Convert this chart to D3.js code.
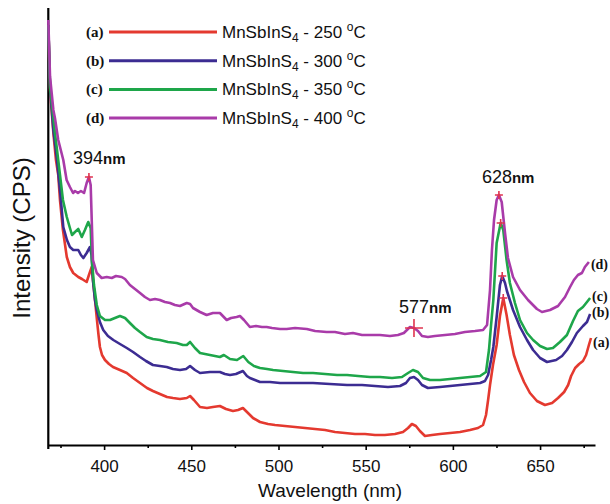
<!DOCTYPE html>
<html>
<head>
<meta charset="utf-8">
<script src="https://cdn.jsdelivr.net/npm/d3@7"></script>
<style>
  body { margin: 0; background: #fff; }
  text { font-family: "Liberation Sans", Arial, sans-serif; fill: #111; }
  .tag { font-family: "Liberation Serif", "Times New Roman", serif; font-weight: bold; }
</style>
</head>
<body>
<div id="chart"></div>
<script>
// wavelength (nm), intensity (CPS)
var seriesA = [[368.0,4200],[369.0,3550],[370.9,3120],[372.4,2850],[373.7,2700],[374.7,2450],[376.4,2150],[378.6,1880],[380.4,1780],[382.3,1720],[385.2,1680],[387.3,1660],[390.0,1630],[391.3,1700],[392.9,1780],[393.6,1650],[394.8,1450],[395.9,1250],[396.8,1100],[397.6,980],[398.8,900],[400.5,850],[402.8,810],[405.1,780],[409.1,750],[413.0,720],[416.6,670],[420.6,620],[424.6,570],[428.0,540],[432.0,510],[436.1,480],[439.5,470],[443.5,460],[447.4,470],[449.3,490],[451.5,450],[455.0,380],[459.0,370],[462.4,380],[466.4,390],[469.9,360],[473.9,340],[476.8,350],[479.6,370],[482.5,320],[485.4,270],[489.4,230],[494.0,210],[498.0,200],[503.7,190],[509.5,180],[515.2,170],[520.9,160],[526.7,150],[532.4,130],[538.1,120],[543.9,110],[549.6,110],[555.3,100],[561.0,100],[566.8,110],[571.4,130],[574.3,170],[576.5,210],[578.8,190],[581.1,140],[584.0,90],[588.0,100],[592.6,110],[598.4,120],[604.1,130],[609.8,150],[614.4,170],[617.3,200],[619.0,300],[620.2,450],[621.3,600],[623.0,800],[625.1,1000],[627.0,1290],[628.9,1470],[630.8,1300],[632.7,1100],[635.0,900],[637.9,750],[640.8,630],[644.2,520],[648.2,440],[652.8,400],[656.9,420],[660.3,470],[663.8,530],[666.1,600],[667.8,690],[670.1,770],[672.4,810],[674.6,840],[676.4,900],[678.0,1000],[679.2,1070]];

var seriesB = [[368.0,4200],[369.0,3570],[370.9,3150],[373.0,2850],[374.7,2550],[376.6,2180],[378.7,2050],[380.4,1980],[382.3,1950],[385.2,1950],[386.7,1900],[388.1,1870],[390.0,1920],[391.9,1980],[392.8,1900],[393.6,1650],[394.8,1450],[395.8,1350],[397.6,1230],[399.5,1150],[402.2,1090],[405.3,1050],[409.1,1010],[413.0,970],[416.6,930],[420.6,880],[424.0,840],[428.0,800],[432.0,790],[435.9,780],[439.5,760],[443.5,750],[447.0,760],[449.3,790],[452.1,750],[455.0,720],[460.7,730],[466.4,730],[469.3,710],[472.2,700],[475.6,710],[479.6,740],[481.9,690],[483.6,670],[486.5,650],[489.4,630],[495.1,630],[500.9,620],[509.5,620],[519.8,620],[529.5,610],[539.3,600],[547.9,600],[555.3,590],[562.8,580],[569.7,590],[573.1,620],[575.4,670],[577.7,680],[580.0,650],[582.3,600],[585.7,570],[592.6,580],[598.4,590],[604.1,600],[609.8,610],[615.6,620],[618.4,640],[620.2,700],[621.9,850],[623.2,980],[625.1,1280],[627.0,1600],[628.3,1690],[629.9,1620],[631.0,1540],[634.5,1350],[638.5,1180],[642.5,1050],[646.0,950],[650.0,870],[654.0,830],[659.2,850],[662.6,890],[665.4,950],[668.3,1030],[671.1,1120],[674.6,1190],[676.9,1230],[678.7,1310]];

var seriesC = [[368.0,4200],[369.0,3580],[371.8,3120],[373.0,2950],[374.7,2700],[376.4,2450],[378.6,2280],[380.4,2170],[381.6,2100],[383.3,2130],[385.2,2160],[387.2,2080],[389.0,2150],[390.9,2230],[392.3,2170],[393.0,1850],[394.2,1600],[395.8,1400],[397.6,1290],[400.5,1250],[403.4,1250],[406.2,1270],[409.1,1290],[412.0,1270],[414.8,1220],[417.7,1170],[420.6,1130],[424.4,1080],[428.0,1060],[432.0,1050],[436.6,1030],[441.6,1020],[445.2,1000],[447.4,1000],[449.3,1030],[452.1,970],[455.0,920],[460.7,900],[466.4,880],[468.7,900],[472.2,860],[476.2,850],[479.8,890],[482.7,830],[485.9,790],[489.4,770],[493.4,760],[496.9,750],[502.6,740],[508.3,730],[514.1,720],[519.8,720],[526.7,710],[533.6,700],[539.3,700],[545.6,690],[552.5,680],[558.2,680],[565.1,670],[570.8,680],[574.3,720],[577.1,750],[580.0,730],[582.9,670],[586.9,650],[592.6,650],[598.4,660],[604.1,670],[609.8,680],[615.6,690],[619.0,730],[620.7,950],[621.9,1200],[623.2,1450],[625.1,2020],[627.4,2220],[628.9,2150],[630.8,1850],[632.7,1620],[635.6,1420],[638.5,1250],[642.5,1120],[646.0,1050],[650.0,990],[654.0,960],[657.4,970],[661.4,1030],[665.4,1100],[668.9,1240],[671.7,1340],[674.6,1380],[676.9,1430],[678.7,1470]];

var seriesD = [[368.0,4250],[369.0,3680],[370.9,3350],[371.8,3270],[373.7,3050],[376.6,2850],[378.5,2650],[380.4,2580],[382.2,2520],[383.3,2540],[385.0,2520],[386.7,2540],[388.5,2520],[390.0,2620],[391.3,2680],[392.3,2600],[393.6,1850],[395.8,1720],[398.6,1670],[401.5,1680],[404.4,1670],[406.8,1690],[410.1,1680],[412.0,1660],[414.8,1600],[417.7,1560],[420.6,1520],[423.4,1480],[426.3,1450],[429.2,1460],[432.0,1450],[434.9,1430],[437.8,1420],[440.6,1400],[443.5,1390],[447.4,1420],[449.3,1410],[451.0,1370],[455.0,1330],[458.8,1300],[462.4,1320],[466.4,1320],[470.3,1250],[472.8,1270],[476.0,1280],[477.9,1290],[480.2,1250],[483.6,1180],[487.1,1190],[490.5,1180],[493.2,1180],[496.3,1170],[500.9,1160],[504.7,1160],[509.5,1170],[516.2,1160],[521.0,1140],[527.6,1130],[532.4,1130],[538.1,1110],[542.7,1120],[547.9,1100],[553.6,1100],[558.2,1100],[563.9,1090],[568.5,1100],[571.9,1120],[575.4,1180],[577.7,1170],[580.0,1140],[582.3,1090],[585.7,1080],[589.7,1090],[595.5,1100],[601.2,1110],[606.9,1130],[612.7,1140],[617.3,1150],[619.6,1200],[621.3,1550],[622.4,1950],[623.6,2250],[625.1,2450],[626.4,2500],[628.0,2430],[629.9,2120],[631.6,1870],[634.5,1680],[638.5,1550],[643.1,1450],[648.2,1360],[651.1,1330],[655.7,1350],[660.3,1390],[664.3,1480],[667.2,1580],[669.4,1650],[671.7,1700],[674.0,1720],[675.7,1780],[678.0,1830]];

var sampleTags = ["(a)", "(b)", "(c)", "(d)"];
var temperatures = ["250", "300", "350", "400"];
var colors = ["#e4392f", "#3c2c92", "#1ea64a", "#a93ba9"];
var majorTicks = [400, 450, 500, 550, 600, 650];
var minorTicks = [375, 425, 475, 525, 575, 625, 675];
// peak markers: [series index, wavelength]
var smallStars = [[3, 391.3], [3, 626.4], [2, 627.4], [1, 628.3], [0, 628.9]];
var bigStar = [3, 577.7];
var peakLabels = [[3, 391.3, "394"], [3, 626.4, "628"], [3, 577.7, "577"]];

var allSeries = [seriesA, seriesB, seriesC, seriesD];

var width = 610, height = 504;
var svg = d3.select("#chart").append("svg")
    .attr("width", width)
    .attr("height", height);

var x = d3.scaleLinear().domain([368, 681.5]).range([48.3, 595]);
var y = d3.scaleLinear().domain([0, 4370]).range([445, 8]);

// axes
svg.append("g")
    .attr("transform", "translate(0,445)")
    .call(d3.axisBottom(x).tickValues(minorTicks).tickSize(3).tickFormat("").tickSizeOuter(0))
    .call(function(g){ g.select(".domain").remove(); })
    .selectAll("line").attr("stroke", "#000").attr("stroke-width", 1.6);

var xAxis = svg.append("g")
    .attr("transform", "translate(0,445)")
    .call(d3.axisBottom(x).tickValues(majorTicks).tickSize(5).tickSizeOuter(0).tickPadding(10));
xAxis.select(".domain").attr("stroke", "#000").attr("stroke-width", 2.2);
xAxis.selectAll("line").attr("stroke", "#000").attr("stroke-width", 1.6);
xAxis.selectAll("text")
    .style("font-family", '"Liberation Sans", Arial, sans-serif')
    .style("font-size", "17px")
    .attr("fill", "#111");

svg.append("line")
    .attr("x1", 48.3).attr("x2", 48.3)
    .attr("y1", 8).attr("y2", 449)
    .attr("stroke", "#000")
    .attr("stroke-width", 2.2);

svg.append("text")
    .attr("x", 330)
    .attr("y", 497)
    .attr("text-anchor", "middle")
    .style("font-size", "19px")
    .text("Wavelength (nm)");

svg.append("text")
    .attr("transform", "translate(30,238) rotate(-90)")
    .attr("text-anchor", "middle")
    .style("font-size", "24px")
    .text("Intensity (CPS)");

// spectra
var line = d3.line()
    .x(function(d){ return x(d[0]); })
    .y(function(d){ return y(d[1]); });

allSeries.forEach(function(s, i){
    svg.append("path")
        .datum(s)
        .attr("d", line)
        .attr("fill", "none")
        .attr("stroke", colors[i])
        .attr("stroke-width", 2.6)
        .attr("stroke-linejoin", "round");
});

function valueAt(i, nm){
    var s = allSeries[i];
    var best = s[0];
    s.forEach(function(p){ if (Math.abs(p[0] - nm) < Math.abs(best[0] - nm)) best = p; });
    return best;
}

function star(px, py, r){
    svg.append("path")
        .attr("d", "M" + (px - r) + "," + py + "H" + (px + r) + "M" + px + "," + (py - r) + "V" + (py + r))
        .attr("stroke", "#e0344f")
        .attr("stroke-width", 1.6);
}

smallStars.forEach(function(m){
    var p = valueAt(m[0], m[1]);
    star(x(p[0]), y(p[1]), 4);
});
var bp = valueAt(bigStar[0], bigStar[1]);
star(x(bp[0]), y(bp[1]), 9);

// peak labels
var labelOffsets = [[-16, -13], [-17, -12], [-15, -15]];
peakLabels.forEach(function(l, k){
    var p = valueAt(l[0], l[1]);
    var t = svg.append("text")
        .attr("x", x(p[0]) + labelOffsets[k][0])
        .attr("y", y(p[1]) + labelOffsets[k][1]);
    t.append("tspan").style("font-size", "18px").text(l[2]);
    t.append("tspan").style("font-size", "15px").style("font-weight", "bold").text("nm");
});

// legend
sampleTags.forEach(function(tag, i){
    var ly = 32 + i * 28.7;
    svg.append("text")
        .attr("class", "tag")
        .attr("x", 86)
        .attr("y", ly + 5)
        .style("font-size", "15px")
        .text(tag);
    svg.append("line")
        .attr("x1", 109).attr("x2", 217)
        .attr("y1", ly).attr("y2", ly)
        .attr("stroke", colors[i])
        .attr("stroke-width", 3);
    var t = svg.append("text")
        .attr("x", 222)
        .attr("y", ly + 6)
        .style("font-size", "17px");
    t.append("tspan").text("MnSbInS");
    t.append("tspan").attr("dy", 4).style("font-size", "12px").text("4");
    t.append("tspan").attr("dy", -4).text(" - " + temperatures[i] + " ");
    t.append("tspan").attr("dy", -7).style("font-size", "12px").text("o");
    t.append("tspan").attr("dy", 7).text("C");
});

// tags at the right end of each curve
var endDy = [9, 3, 3, 7];
allSeries.forEach(function(s, i){
    var last = s[s.length - 1];
    svg.append("text")
        .attr("class", "tag")
        .attr("x", x(last[0]) + 2)
        .attr("y", y(last[1]) + endDy[i])
        .style("font-size", "14px")
        .text(sampleTags[i]);
});
</script>
</body>
</html>
